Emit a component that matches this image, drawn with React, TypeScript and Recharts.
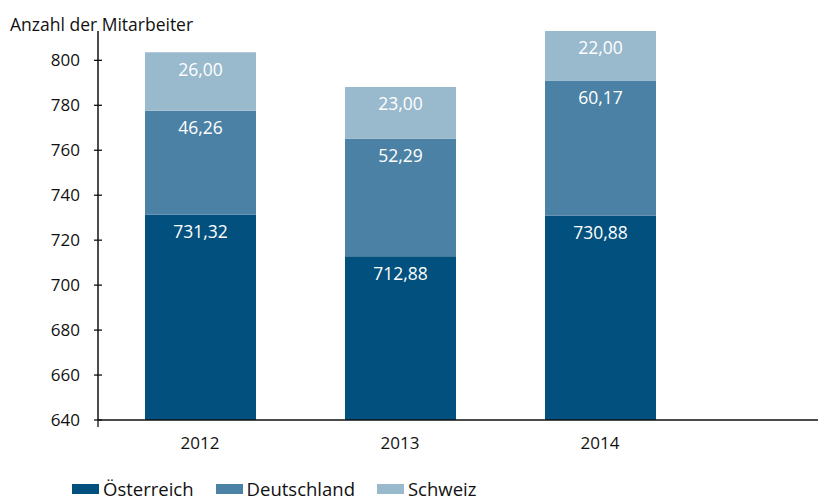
import { BarChart, Bar, XAxis, YAxis, LabelList } from 'recharts'

const years = ['2012', '2013', '2014']
const oesterreich = [731.32, 712.88, 730.88]
const deutschland = [46.26, 52.29, 60.17]
const schweiz = [26.0, 23.0, 22.0]
const yTicks = [640, 660, 680, 700, 720, 740, 760, 780, 800]

const data = years.map((year, i) => ({
  year,
  oesterreich: oesterreich[i],
  deutschland: deutschland[i],
  schweiz: schweiz[i],
}))

const COLORS = {
  oesterreich: '#02507d',
  deutschland: '#4b81a5',
  schweiz: '#99b9cd',
}

const FONT = '"Open Sans", Lato, sans-serif'
const TICK_MARGIN = 18

function deNumber(v: unknown) {
  return Number(v).toFixed(2).replace('.', ',')
}

function YTick(props: any) {
  const { x, y, payload } = props
  const axisX = x + TICK_MARGIN
  return (
    <g>
      <line x1={axisX - 4} x2={axisX + 4} y1={y} y2={y} stroke="#111" strokeWidth={1.3} />
      {payload.value === 640 && (
        <line x1={axisX} x2={axisX} y1={y} y2={y + 7} stroke="#111" strokeWidth={1.3} />
      )}
      <text x={x} y={y} dy="0.36em" textAnchor="end" fontSize={17} fill="#111" fontFamily={FONT}>
        {payload.value}
      </text>
    </g>
  )
}

const legend = [
  { key: 'oesterreich', label: 'Österreich' },
  { key: 'deutschland', label: 'Deutschland' },
  { key: 'schweiz', label: 'Schweiz' },
] as const

export default function App() {
  return (
    <div style={{ position: 'absolute', left: 0, top: 0, width: 821, height: 500, fontFamily: FONT, background: '#fff' }}>
      <div style={{ position: 'absolute', left: 10, top: 13, fontSize: 17.5, color: '#111', lineHeight: '22px' }}>
        Anzahl der Mitarbeiter
      </div>
      <BarChart
        width={821}
        height={460}
        data={data}
        margin={{ top: 31, right: 3, bottom: 0, left: 0 }}
      >
        <XAxis
          dataKey="year"
          padding={{ left: 2, right: 118 }}
          axisLine={{ stroke: '#111', strokeWidth: 1.5 }}
          tickLine={false}
          tickMargin={11}
          height={40}
          tick={{ fill: '#111', fontSize: 17, fontFamily: FONT }}
        />
        <YAxis
          width={98}
          type="number"
          domain={[640, 'dataMax']}
          allowDataOverflow
          ticks={yTicks}
          axisLine={{ stroke: '#111', strokeWidth: 1.5 }}
          tickLine={false}
          tickSize={0}
          tickMargin={TICK_MARGIN}
          tick={<YTick />}
          interval={0}
        />
        {legend.map((s) => (
          <Bar
            key={s.key}
            dataKey={s.key}
            stackId="a"
            fill={COLORS[s.key]}
            barSize={111}
            isAnimationActive={false}
          >
            <LabelList
              dataKey={s.key}
              position="insideTop"
              offset={11}
              fill="#fff"
              fontSize={17.5}
              fontFamily={FONT}
              formatter={deNumber}
            />
          </Bar>
        ))}
      </BarChart>
      <div style={{ position: 'absolute', left: 72, top: 479, display: 'flex', alignItems: 'center', fontSize: 18.5, lineHeight: '20px', color: '#111' }}>
        {legend.map((s) => (
          <span key={s.key} style={{ display: 'flex', alignItems: 'center', marginRight: 22 }}>
            <span style={{ width: 27, height: 10, background: COLORS[s.key], marginRight: 4 }} />
            {s.label}
          </span>
        ))}
      </div>
    </div>
  )
}
